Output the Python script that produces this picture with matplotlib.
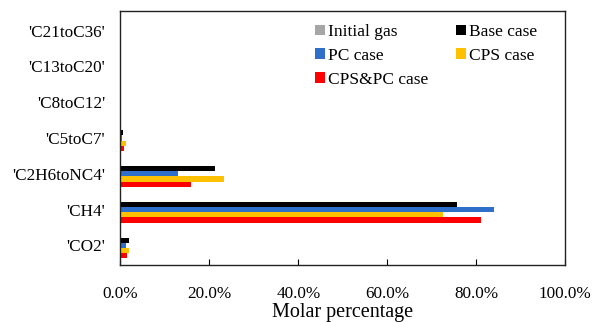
import numpy as np
import matplotlib.pyplot as plt

plt.rcParams['font.family'] = ['Liberation Serif', 'DejaVu Serif']

categories = ["'CO2'", "'CH4'", "'C2H6toNC4'", "'C5toC7'", "'C8toC12'", "'C13toC20'", "'C21toC36'"]
series_names = ['Initial gas', 'Base case', 'PC case', 'CPS case', 'CPS&PC case']
colors = ['#a6a6a6', '#000000', '#2e6fca', '#ffc000', '#ff0000']

initial_gas = [0.0, 0.0, 0.0, 0.0, 0.0, 0.0, 0.0]
base_case = [0.019, 0.757, 0.213, 0.007, 0.0005, 0.0, 0.0]
pc_case = [0.013, 0.840, 0.130, 0.003, 0.0003, 0.0, 0.0]
cps_case = [0.019, 0.726, 0.232, 0.013, 0.002, 0.0, 0.0]
cps_pc_case = [0.015, 0.811, 0.159, 0.009, 0.0015, 0.0, 0.0]
values = [initial_gas, base_case, pc_case, cps_case, cps_pc_case]

fig, ax = plt.subplots(figsize=(5.93, 3.22), dpi=100)
fig.subplots_adjust(left=0.203, right=0.953, top=0.966, bottom=0.177)

y = np.arange(len(categories))
h = 0.145
bars = []
for i, (name, vals, c) in enumerate(zip(series_names, values, colors)):
    bars.append(ax.barh(y + (2 - i) * h, vals, height=h, color=c, label=name))

ax.set_xlim(0, 1.0)
ax.set_ylim(-0.55, len(categories) - 0.45)
ax.set_yticks(y)
ax.set_yticklabels(categories, fontsize=12.3)
ticks = np.arange(0, 1.01, 0.2)
ax.set_xticks(ticks)
ax.set_xticklabels(['%.1f%%' % (t * 100) for t in ticks], fontsize=12.3)
ax.tick_params(axis='x', direction='in', length=4, pad=15)
ax.tick_params(axis='y', length=0, pad=11)
ax.set_xlabel('Molar percentage', fontsize=14.5, labelpad=1)
for s in ax.spines.values():
    s.set_color('#222222')
    s.set_linewidth(1.0)

# legend is filled row by row in the reference
order = [0, 2, 4, 1, 3]
ax.legend([bars[i] for i in order], [series_names[i] for i in order],
          loc='upper right', ncol=2, frameon=False, fontsize=12.5,
          handlelength=0.55, handleheight=0.55, handletextpad=0.2,
          columnspacing=1.6, labelspacing=0.45, bbox_to_anchor=(0.973, 1.01))

fig.savefig('out.png', dpi=100)
